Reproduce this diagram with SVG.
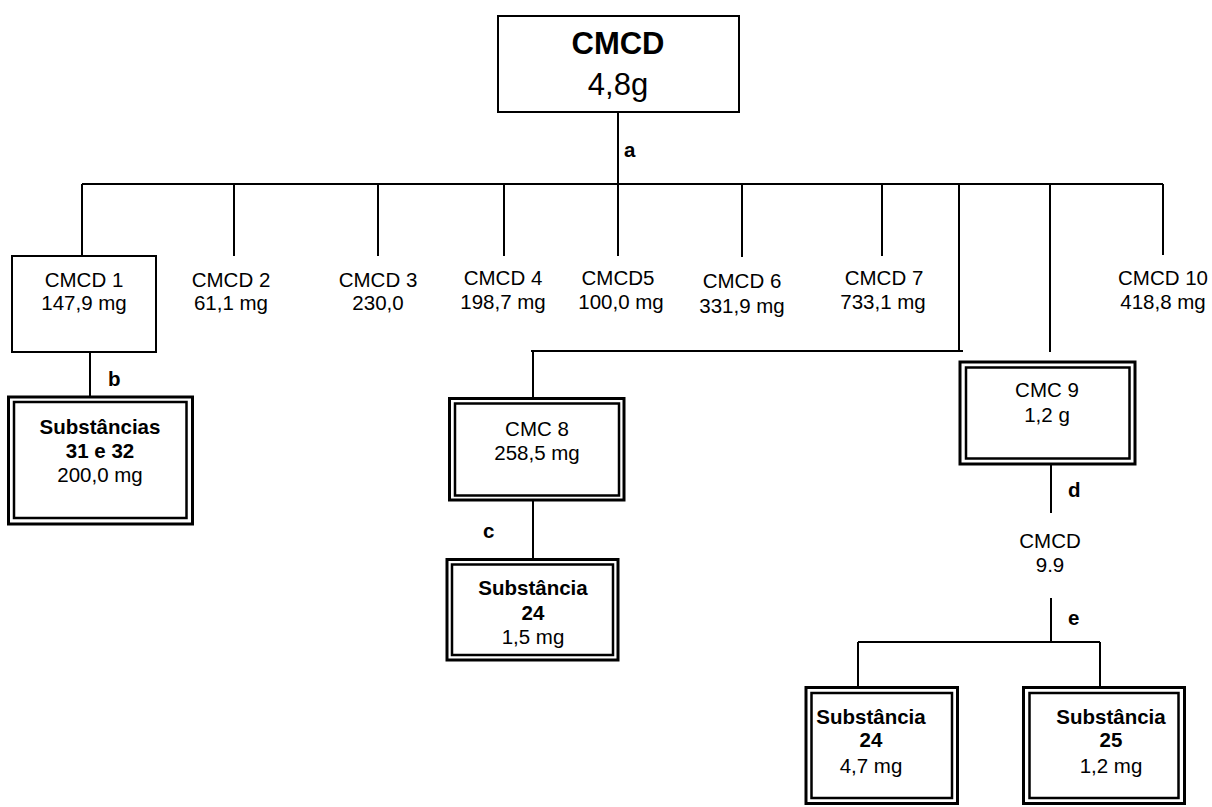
<svg xmlns="http://www.w3.org/2000/svg" width="1212" height="807" viewBox="0 0 1212 807">
  <style>
    text { font-family: "Liberation Sans", Arial, sans-serif; fill: #000; text-anchor: middle; }
    .t { font-size: 20.5px; }
    .b { font-size: 20.5px; font-weight: bold; }
    .lbl { font-size: 20.5px; font-weight: bold; text-anchor: start; }
    .big { font-size: 31px; }
    .bigb { font-size: 31px; font-weight: bold; }
    .box { fill: #fff; stroke: #000; stroke-width: 2; }
    .outer { fill: #fff; stroke: #000; stroke-width: 3; }
    .inner { fill: none; stroke: #000; stroke-width: 2.5; }
    .ln { fill: none; stroke: #000; stroke-width: 2; }
  </style>
  <rect width="1212" height="807" fill="#fff"/>

  <!-- connectors -->
  <g id="connectors">
    <path class="ln" d="M618,112 V184"/>
    <path class="ln" d="M82,184 H1163"/>
    <path class="ln" d="M82,184 V256"/>
    <path class="ln" d="M234,184 V256"/>
    <path class="ln" d="M378,184 V256"/>
    <path class="ln" d="M504,184 V256"/>
    <path class="ln" d="M618,184 V256"/>
    <path class="ln" d="M742,184 V257"/>
    <path class="ln" d="M882,184 V256"/>
    <path class="ln" d="M1163,184 V255"/>
    <path class="ln" d="M959,184 V351 M963,351 H531"/>
    <path class="ln" d="M533,351 V399"/>
    <path class="ln" d="M1050,184 V352"/>
    <path class="ln" d="M90,352 V398"/>
    <path class="ln" d="M533,500 V560"/>
    <path class="ln" d="M1051,464 V513"/>
    <path class="ln" d="M1051,598 V642 M858,642 H1100 M858,642 V688 M1100,642 V688"/>
    <text class="lbl" x="624" y="157">a</text>
    <text class="lbl" x="108" y="386">b</text>
    <text class="lbl" x="483" y="538">c</text>
    <text class="lbl" x="1068" y="497">d</text>
    <text class="lbl" x="1068" y="625">e</text>
  </g>

  <!-- root -->
  <g id="n-cmcd">
    <rect class="box" x="498" y="16" width="241" height="96"/>
    <text class="bigb" x="618" y="54">CMCD</text>
    <text class="big" x="618" y="95">4,8g</text>
  </g>

  <!-- first-level fractions -->
  <g id="n-cmcd1">
    <rect class="box" x="12" y="256" width="144" height="96"/>
    <text class="t" x="84" y="287">CMCD 1</text>
    <text class="t" x="84" y="310">147,9 mg</text>
  </g>
  <g id="n-cmcd2">
    <text class="t" x="231" y="287">CMCD 2</text>
    <text class="t" x="231" y="310">61,1 mg</text>
  </g>
  <g id="n-cmcd3">
    <text class="t" x="378" y="287">CMCD 3</text>
    <text class="t" x="378" y="310">230,0</text>
  </g>
  <g id="n-cmcd4">
    <text class="t" x="503" y="285">CMCD 4</text>
    <text class="t" x="503" y="309">198,7 mg</text>
  </g>
  <g id="n-cmcd5">
    <text class="t" x="618" y="285">CMCD5</text>
    <text class="t" x="621" y="309">100,0 mg</text>
  </g>
  <g id="n-cmcd6">
    <text class="t" x="742" y="288">CMCD 6</text>
    <text class="t" x="742" y="313">331,9 mg</text>
  </g>
  <g id="n-cmcd7">
    <text class="t" x="884" y="285">CMCD 7</text>
    <text class="t" x="883" y="309">733,1 mg</text>
  </g>
  <g id="n-cmcd10">
    <text class="t" x="1163" y="285">CMCD 10</text>
    <text class="t" x="1163" y="309">418,8 mg</text>
  </g>

  <!-- sub-fractions -->
  <g id="n-sub3132">
    <rect class="outer" x="8.5" y="397" width="184" height="127"/>
    <rect class="inner" x="14" y="402" width="172.5" height="116"/>
    <text class="b" x="100" y="434">Substâncias</text>
    <text class="b" x="100" y="458">31 e 32</text>
    <text class="t" x="100" y="482">200,0 mg</text>
  </g>
  <g id="n-cmc8">
    <rect class="outer" x="449.5" y="398.5" width="174.5" height="101.5"/>
    <rect class="inner" x="455" y="403.5" width="164" height="92"/>
    <text class="t" x="537" y="436">CMC 8</text>
    <text class="t" x="537" y="460">258,5 mg</text>
  </g>
  <g id="n-sub24a">
    <rect class="outer" x="447" y="559.5" width="171" height="100.5"/>
    <rect class="inner" x="452" y="564.5" width="161" height="90.5"/>
    <text class="b" x="533" y="595">Substância</text>
    <text class="b" x="533" y="620">24</text>
    <text class="t" x="533" y="644">1,5 mg</text>
  </g>
  <g id="n-cmc9">
    <rect class="outer" x="960" y="362" width="175" height="102"/>
    <rect class="inner" x="966" y="367.5" width="163.5" height="91"/>
    <text class="t" x="1047" y="397">CMC 9</text>
    <text class="t" x="1047" y="422">1,2 g</text>
  </g>
  <g id="n-cmcd99">
    <text class="t" x="1050" y="548">CMCD</text>
    <text class="t" x="1050" y="572">9.9</text>
  </g>
  <g id="n-sub24b">
    <rect class="outer" x="806" y="687.5" width="151.5" height="116"/>
    <rect class="inner" x="811.5" y="693" width="140.5" height="105"/>
    <text class="b" x="871" y="724">Substância</text>
    <text class="b" x="871" y="747">24</text>
    <text class="t" x="871" y="773">4,7 mg</text>
  </g>
  <g id="n-sub25">
    <rect class="outer" x="1023.5" y="687.5" width="161" height="116"/>
    <rect class="inner" x="1029.5" y="693" width="149" height="105"/>
    <text class="b" x="1111" y="724">Substância</text>
    <text class="b" x="1111" y="747">25</text>
    <text class="t" x="1111" y="773">1,2 mg</text>
  </g>
</svg>
